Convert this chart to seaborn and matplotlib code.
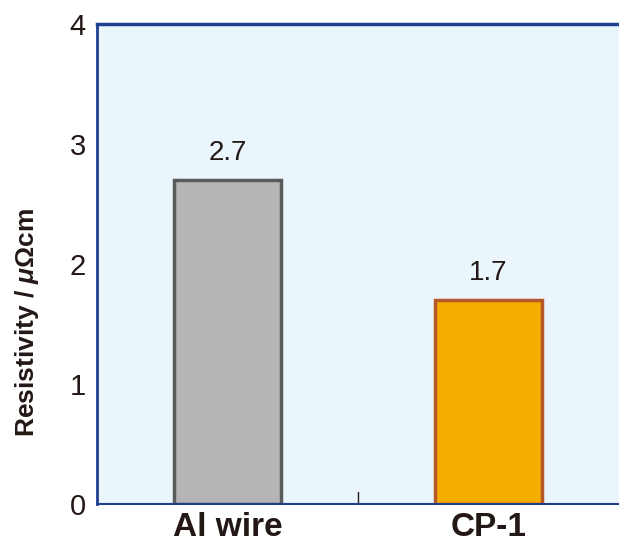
import matplotlib
matplotlib.use("Agg")
import matplotlib.pyplot as plt
import seaborn as sns
import pandas as pd

# data
categories = ["Al wire", "CP-1"]
resistivity = [2.7, 1.7]
bar_colors = ["#b4b5b4", "#f4ae00"]
edge_colors = ["#5b5b5b", "#b5582a"]

sns.set_style("white")
plt.rcParams["font.family"] = ["Liberation Sans", "DejaVu Sans"]
plt.rcParams["mathtext.fontset"] = "custom"
plt.rcParams["mathtext.it"] = "Liberation Sans:italic:bold"
plt.rcParams["mathtext.rm"] = "Liberation Sans:bold"

df = pd.DataFrame({"cat": categories, "val": resistivity})

fig = plt.figure(figsize=(6.19, 5.45), dpi=100)
ax = fig.add_axes([0.1567, 0.0752, 0.8433, 0.8808])
ax.set_facecolor("#eaf5fc")

sns.barplot(data=df, x="cat", y="val", hue="cat", palette=bar_colors,
            width=0.41, legend=False, ax=ax, saturation=1)
for patch, ec in zip(ax.patches, edge_colors):
    patch.set_edgecolor(ec)
    patch.set_linewidth(2.5)

for i, v in enumerate(resistivity):
    ax.text(i, v + 0.12, f"{v}", ha="center", va="bottom", fontsize=20, color="#231815")

ax.set_xlim(-0.5, 1.5)
ax.set_ylim(0, 4)
ax.set_yticks([0, 1, 2, 3, 4])
ax.tick_params(axis="y", direction="in", length=10, width=1.2, color="#555555",
               labelsize=21, labelcolor="#231815", pad=8)
ax.set_xticks([0, 1])
ax.set_xticklabels(categories, fontsize=24, fontweight="bold", color="#231815")
ax.tick_params(axis="x", length=0, pad=6)
ax.axvline(0.5, ymin=0, ymax=0.025, color="#231815", lw=1)

ax.set_xlabel("")
ax.set_ylabel(r"Resistivity / $\mathit{\mu}$Ωcm", fontsize=19, fontweight="bold",
              color="#231815")
ax.yaxis.set_label_coords(-0.107, 0.379)

spine_col = "#1f3f8f"
for side in ["left", "top", "bottom"]:
    ax.spines[side].set_color(spine_col)
    ax.spines[side].set_visible(True)
ax.spines["left"].set_linewidth(2)
ax.spines["top"].set_linewidth(2.5)
ax.spines["bottom"].set_linewidth(1.5)
ax.spines["right"].set_visible(False)

fig.savefig("out.png", dpi=100)
